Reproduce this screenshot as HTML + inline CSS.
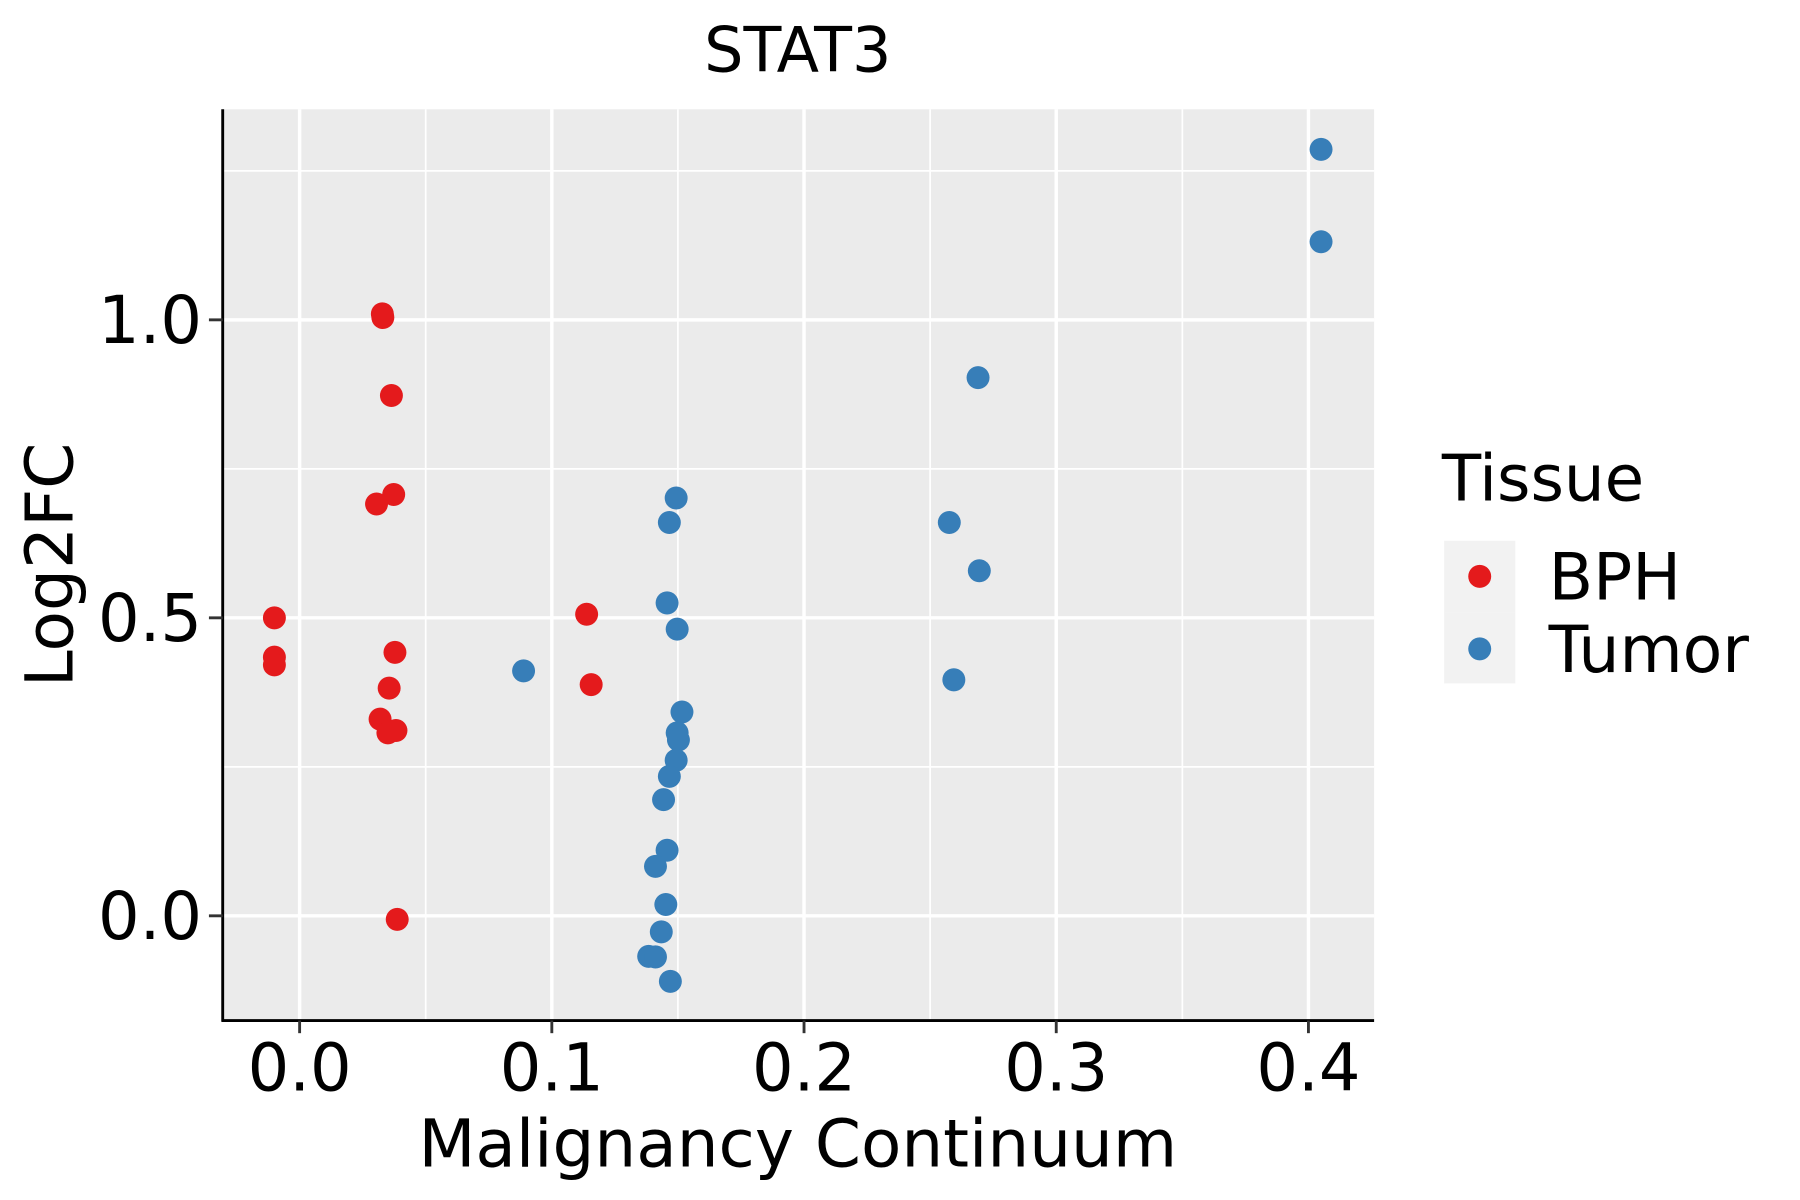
<!DOCTYPE html>
<html><head><meta charset="utf-8"><style>html,body{margin:0;padding:0;background:#fff}svg{display:block}</style></head>
<body>
<svg id="chart" width="1800" height="1200" viewBox="0 0 1568 1043" preserveAspectRatio="none" xmlns="http://www.w3.org/2000/svg" font-family="'DejaVu Sans','Liberation Sans',sans-serif">
<rect x="193" y="95" width="1004" height="792" fill="#ebebeb"/>
<g id="grid"></g>
<g id="points"></g>
<line x1="194" y1="95" x2="194" y2="888" stroke="#000" stroke-width="2.5"/>
<line x1="193" y1="887" x2="1197" y2="887" stroke="#000" stroke-width="2.5"/>
<g id="ticks"></g>
<text x="695" y="62" font-size="54" text-anchor="middle">STAT3</text>
<text x="695" y="1014" font-size="57.5" text-anchor="middle">Malignancy Continuum</text>
<text transform="translate(63,491) rotate(-90)" font-size="57.5" text-anchor="middle">Log2FC</text>
<text x="1256" y="435" font-size="56">Tissue</text>
<rect x="1258" y="470" width="62" height="62" fill="#f2f2f2"/>
<rect x="1258" y="532" width="62" height="62" fill="#f2f2f2"/>
<circle cx="1289" cy="501" r="10" fill="#e41a1c"/>
<circle cx="1289" cy="564" r="10" fill="#377eb8"/>
<text x="1349" y="521" font-size="56.5">BPH</text>
<text x="1349" y="584" font-size="56.5">Tumor</text>
</svg>
<script>
const xTicks = [0.0, 0.1, 0.2, 0.3, 0.4];
const xTickLabels = ["0.0", "0.1", "0.2", "0.3", "0.4"];
const yTicks = [0.0, 0.5, 1.0];
const yTickLabels = ["0.0", "0.5", "1.0"];
const xMinor = [0.05, 0.15, 0.25, 0.35];
const yMinor = [0.25, 0.75, 1.25];
const bphX = [0.0328,0.033,0.0364,0.0373,0.0305,-0.010,-0.010,-0.010,0.0378,0.0355,0.0319,0.035,0.0382,0.0387,0.1138,0.1156];
const bphY = [1.01,1.004,0.873,0.707,0.691,0.500,0.434,0.421,0.442,0.382,0.330,0.307,0.311,-0.006,0.506,0.388];
const tumorX = [0.405,0.405,0.269,0.2576,0.2695,0.2594,0.0888,0.1493,0.1466,0.1457,0.1497,0.1516,0.1497,0.1502,0.1493,0.1466,0.1443,0.1457,0.1411,0.1452,0.1434,0.1384,0.1411,0.147];
const tumorY = [1.286,1.131,0.903,0.660,0.579,0.396,0.411,0.701,0.660,0.525,0.481,0.342,0.307,0.295,0.261,0.234,0.195,0.110,0.083,0.019,-0.027,-0.068,-0.069,-0.110];

const NS = "http://www.w3.org/2000/svg";
function sx(v){ return 261 + v * 2197; }
function sy(v){ return 796 - v * 518; }
function mk(tag, attrs, parent){ const e = document.createElementNS(NS, tag); for (const k in attrs) e.setAttribute(k, attrs[k]); parent.appendChild(e); return e; }
const grid = document.getElementById('grid'), ticks = document.getElementById('ticks'), pts = document.getElementById('points');
xMinor.forEach(v => { const l = mk('line', {x1:sx(v), x2:sx(v), y1:95, y2:887, stroke:'#fff', 'stroke-width':1.5}, grid);
  
   });
yMinor.forEach(v => { const l = mk('line', {x1:193, x2:1197, y1:sy(v), y2:sy(v), stroke:'#fff', 'stroke-width':1.5}, grid);
  
   });
xTicks.forEach((v, i) => {
  const l = mk('line', {x1:sx(v), x2:sx(v), y1:95, y2:887, stroke:'#fff', 'stroke-width':3}, grid);
  
  
  const t = mk('line', {x1:sx(v), x2:sx(v), y1:887, y2:898, stroke:'#333', 'stroke-width':2.5}, ticks);
  
  
  const tx = mk('text', {x:sx(v), y:948, 'font-size':57, 'text-anchor':'middle', fill:'#000'}, ticks);
  tx.textContent = xTickLabels[i];
  
  
});
yTicks.forEach((v, i) => {
  const l = mk('line', {x1:193, x2:1197, y1:sy(v), y2:sy(v), stroke:'#fff', 'stroke-width':3}, grid);
  
  
  const t = mk('line', {x1:182, x2:194, y1:sy(v), y2:sy(v), stroke:'#333', 'stroke-width':2.5}, ticks);
  
  
  const tx = mk('text', {x:176, y:sy(v)+20, 'font-size':57, 'text-anchor':'end', fill:'#000'}, ticks);
  tx.textContent = yTickLabels[i];
  
  
});
bphX.forEach((v, i) => { const c = mk('circle', {cx:sx(v), cy:sy(bphY[i]), r:10, fill:'#e41a1c'}, pts);
  
   });
tumorX.forEach((v, i) => { const c = mk('circle', {cx:sx(v), cy:sy(tumorY[i]), r:10, fill:'#377eb8'}, pts);
  
   });
</script>
</body></html>
